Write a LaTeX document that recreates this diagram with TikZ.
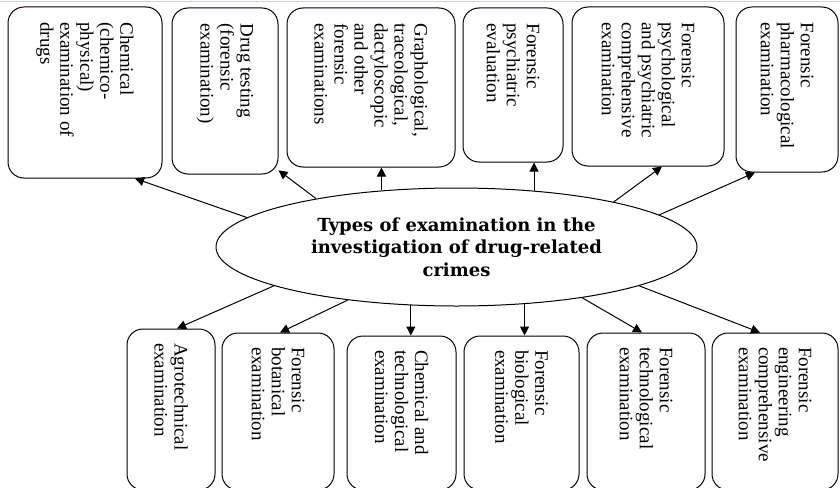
\documentclass[tikz,border=0pt]{standalone}
\usepackage{fontspec}
\usepackage{graphicx}
\usepackage{xcolor}
\usepackage{tikz}
\usetikzlibrary{arrows.meta,shapes.geometric}
\setmainfont{Liberation Serif}
\newfontfamily\hubfont{DejaVu Serif}
\definecolor{edgegray}{HTML}{C9D3DF}
\newcommand{\vtext}[2]{\rotatebox{-90}{\parbox{#1}{\raggedright #2}}}
\tikzset{
  exbox/.style={rectangle,rounded corners=16pt,draw=black,fill=white,line width=1pt,inner sep=0pt,font=\fontsize{19}{20}\selectfont},
  hubnode/.style={ellipse,draw=black,fill=white,line width=1pt,minimum width=481pt,minimum height=118pt,inner sep=0pt,align=center,font=\hubfont\bfseries\fontsize{18}{22.3}\selectfont},
  arrow/.style={-{Triangle[length=9pt,width=9pt]},line width=1pt,draw=black}
}

\begin{document}
\begin{tikzpicture}[x=1pt,y=-1pt]
  \useasboundingbox (0,0) rectangle (840,487);
  \clip (0,0) rectangle (840,487);
  \draw[edgegray,line width=1pt] (0,2) -- (840,2);

  \node[hubnode] (hub) at (456.5,247) {Types of examination in the\\investigation of drug-related\\crimes};

  \node[exbox,minimum width=154pt,minimum height=171pt] (t1) at (85,92.5) {\vtext{140pt}{Chemical\\(chemico-\\physical)\\examination of\\drugs}};
  \node[exbox,minimum width=106pt,minimum height=166pt] (t2) at (225,91) {\vtext{135pt}{Drug testing\\(forensic\\examination)}};
  \node[exbox,minimum width=168pt,minimum height=159pt] (t3) at (371,87.5) {\vtext{128pt}{Graphological,\\traceological,\\dactyloscopic\\and other\\forensic\\examinations}};
  \node[exbox,minimum width=100pt,minimum height=154pt] (t4) at (513,85) {\vtext{123pt}{Forensic\\psychiatric\\evaluation}};
  \node[exbox,minimum width=152pt,minimum height=159pt] (t5) at (648,86.5) {\vtext{128pt}{Forensic\\psychological\\and psychiatric\\comprehensive\\examination}};
  \node[exbox,minimum width=102pt,minimum height=165pt] (t6) at (787,89.5) {\vtext{134pt}{Forensic\\pharmacological\\examination}};

  \node[exbox,minimum width=88pt,minimum height=161pt] (b1) at (171,409.5) {\vtext{133pt}{Agrotechnical\\examination}};
  \node[exbox,minimum width=112pt,minimum height=157pt] (b2) at (278,411.5) {\vtext{129pt}{Forensic\\botanical\\examination}};
  \node[exbox,minimum width=109pt,minimum height=154pt] (b3) at (401.5,413) {\vtext{126pt}{Chemical and\\technological\\examination}};
  \node[exbox,minimum width=115pt,minimum height=154pt] (b4) at (521.5,413) {\vtext{126pt}{Forensic\\biological\\examination}};
  \node[exbox,minimum width=118pt,minimum height=157pt] (b5) at (646,411.5) {\vtext{129pt}{Forensic\\technological\\examination}};
  \node[exbox,minimum width=126pt,minimum height=157pt] (b6) at (775,411.5) {\vtext{129pt}{Forensic\\engineering\\comprehensive\\examination}};

  \draw[arrow] (hub.172) -- ([xshift=50pt]t1.south);
  \draw[arrow] (hub.161) -- (t2.-56);
  \draw[arrow] (hub.143) -- (hub.143 |- t3.south);
  \draw[arrow] (hub.36) -- (hub.36 |- t4.south);
  \draw[arrow] (hub.16) -- ([xshift=14pt]t5.south);
  \draw[arrow] (hub.9) -- ([xshift=-32pt]t6.south);

  \draw[arrow] (hub.192) -- ([xshift=6pt]b1.north);
  \draw[arrow] (hub.206) -- ([xshift=2pt]b2.north);
  \draw[arrow] (hub.232) -- (hub.232 |- b3.north);
  \draw[arrow] (hub.320) -- (hub.320 |- b4.north);
  \draw[arrow] (hub.338) -- ([xshift=-4pt]b5.north);
  \draw[arrow] (hub.348) -- ([xshift=-15pt]b6.north);
\end{tikzpicture}
\end{document}
